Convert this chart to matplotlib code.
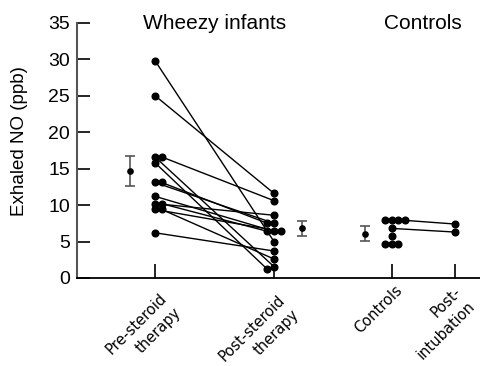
import matplotlib
matplotlib.use("Agg")
import matplotlib.pyplot as plt
import matplotlib.transforms as mtransforms

# exhaled NO (ppb), one entry per infant, paired pre/post
pre_steroid = [29.8, 25.0, 16.6, 16.6, 15.8, 13.1, 13.1, 11.2, 10.2, 10.2, 9.4, 9.4, 6.2]
post_steroid = [5.0, 11.6, 1.55, 10.6, 1.2, 7.5, 7.5, 6.4, 8.6, 6.4, 6.4, 2.6, 3.7]

# controls; two of them were measured again after intubation
controls = [7.9, 7.9, 7.9, 6.8, 5.7, 4.6, 4.6, 4.6, 7.9]
post_intubation = [None, None, None, 6.3, None, None, None, None, 7.4]

# mean +/- SE for the three groups
mean_vals = [14.7, 6.8, 6.1]
se_vals = [2.05, 1.05, 1.05]

categories = ["Pre-steroid\ntherapy", "Post-steroid\ntherapy", "Controls", "Post-\nintubation"]
group_titles = ["Wheezy infants", "Controls"]

# layout
xpos = [1, 2, 2.99, 3.52]
mean_x = [0.79, 2.235, 2.765]
title_x = [1.504, 3.25]
label_off = [(4.5, 13), (3.5, 14.5), (2.5, 4.5), (-1.5, 6.5)]  # px from tick
line_gap = 20      # px between the two lines of a label
step = 0.056       # horizontal shift for overlapping dots
overlap = 0.7      # in ppb: closer than this counts as overlapping


def spread(vals, order):
    placed = []
    offs = []
    for v in vals:
        for k in order:
            if all(abs(v - pv) >= overlap or pk != k for pv, pk in placed):
                break
        placed.append((v, k))
        offs.append(k * step)
    return offs


fig = plt.figure(figsize=(4.8, 3.66), dpi=100)
ax = fig.add_axes([77 / 480, 88 / 366, 1 - 77 / 480, (278 - 22.7) / 366])

dot = dict(marker="o", ms=4.8, color="black", ls="none", zorder=3)

pre_off = spread(pre_steroid, [0, 1, 2])
post_off = spread(post_steroid, [0, -1, 1, 2])
ctrl_off = spread(controls, [0, -1, 1, 2])

for a, b, oa, ob in zip(pre_steroid, post_steroid, pre_off, post_off):
    ax.plot([xpos[0] + oa, xpos[1] + ob], [a, b], color="black", lw=1.0, zorder=2)
ax.plot([xpos[0] + o for o in pre_off], pre_steroid, **dot)
ax.plot([xpos[1] + o for o in post_off], post_steroid, **dot)

for c, p, oc in zip(controls, post_intubation, ctrl_off):
    if p is not None:
        ax.plot([xpos[2] + oc, xpos[3]], [c, p], color="black", lw=1.0, zorder=2)
        ax.plot(xpos[3], p, **dot)
ax.plot([xpos[2] + o for o in ctrl_off], controls, **dot)

ax.errorbar(mean_x, mean_vals, yerr=se_vals, fmt="o", ms=3.8, color="black",
            ecolor="#555555", elinewidth=1.2, capsize=3.3, capthick=1.2, zorder=3)

for t, x in zip(group_titles, title_x):
    ax.text(x, 34.1, t, ha="center", va="baseline", fontsize=15,
            family="Liberation Sans", clip_on=False)

ax.set_xlim(1 - 78 / 119, 1 + 325 / 119)
ax.set_ylim(0, 35)
ax.set_yticks(range(0, 36, 5))
ax.set_xticks(xpos)
ax.set_xticklabels([])

# rotated category labels, one text per line, right-aligned
for x, lab, (dx, dy) in zip(xpos, categories, label_off):
    for j, line in enumerate(lab.split("\n")):
        ox = dx + j * line_gap * 0.707
        oy = -dy - j * line_gap * 0.707
        tr = ax.get_xaxis_transform() + mtransforms.ScaledTranslation(
            ox / 100, oy / 100, fig.dpi_scale_trans)
        ax.text(x, 0, line, transform=tr, rotation=45, rotation_mode="anchor",
                ha="right", va="top", fontsize=10.5, family="DejaVu Sans",
                clip_on=False)

ax.tick_params(axis="x", direction="in", length=10, width=1.2)
ax.tick_params(axis="y", direction="in", length=9.5, width=1.2, pad=5,
               labelsize=14)
for lab in ax.get_yticklabels():
    lab.set_family("Liberation Sans")

ax.spines["top"].set_visible(False)
ax.spines["right"].set_visible(False)
ax.spines["left"].set_color("#555555")
ax.spines["left"].set_linewidth(1.5)
ax.spines["bottom"].set_linewidth(1.3)

fig.text(20 / 480, 1 - 141 / 366, "Exhaled NO (ppb)", rotation=90,
         ha="center", va="center", fontsize=13.5, family="Liberation Sans")

fig.savefig("out.png", dpi=100)
